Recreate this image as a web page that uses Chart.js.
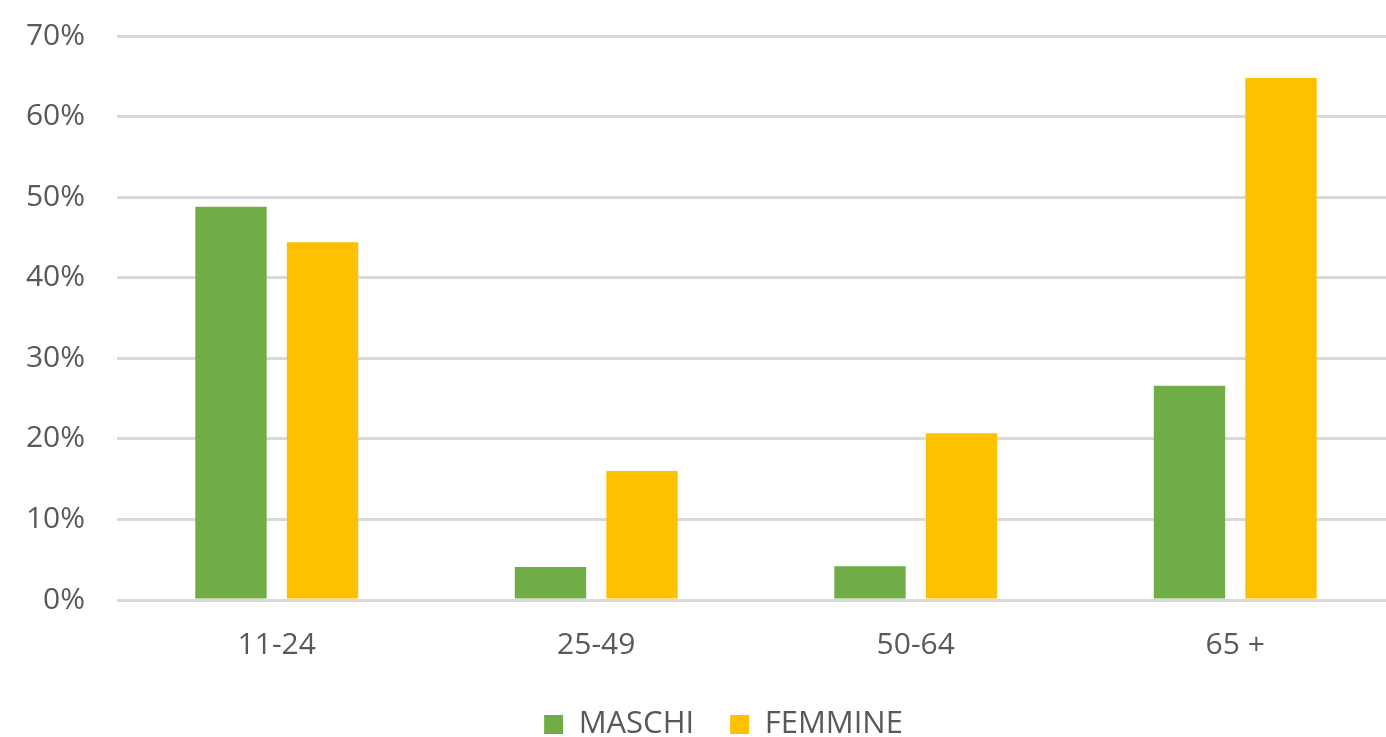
<!DOCTYPE html>
<html>
<head>
<meta charset="utf-8">
<script src="https://cdn.jsdelivr.net/npm/chart.js@4/dist/chart.umd.min.js"></script>
<style>
  html, body { margin: 0; padding: 0; background: #fff; overflow: hidden; }
  #wrap { position: relative; width: 1400px; height: 737px; }
</style>
</head>
<body>
<div id="wrap"><canvas id="c"></canvas></div>
<script>
// age groups and share per sex (percent)
const categories = ['11-24', '25-49', '50-64', '65 +'];
const maschi = [48.8, 4.1, 4.2, 26.6];
const femmine = [44.4, 16.0, 20.7, 64.8];
const yTicks = [0, 10, 20, 30, 40, 50, 60, 70];

const txt = '#595959';
const fontFamily = '"Open Sans", "Liberation Sans", sans-serif';

// nudge the legend a little right, the original is not centred on the canvas
const legendShift = {
  id: 'legendShift',
  afterLayout(chart) {
    if (chart.legend) { chart.legend.left += 26; chart.legend.right += 26; }
  }
};

new Chart(document.getElementById('c').getContext('2d'), {
  type: 'bar',
  data: {
    labels: categories,
    datasets: [
      { label: 'MASCHI', data: maschi, backgroundColor: '#70ad47',
        categoryPercentage: 0.573, barPercentage: 0.78 },
      { label: 'FEMMINE', data: femmine, backgroundColor: '#ffc000',
        categoryPercentage: 0.573, barPercentage: 0.78 }
    ]
  },
  plugins: [legendShift],
  options: {
    responsive: true,
    maintainAspectRatio: false,
    animation: false,
    layout: { autoPadding: false, padding: { top: 36, right: 5, bottom: -13, left: 0 } },
    plugins: {
      tooltip: { enabled: false },
      legend: {
        position: 'bottom',
        labels: {
          color: txt,
          font: { family: fontFamily, size: 31 },
          boxWidth: 19, boxHeight: 19, padding: 36
        }
      }
    },
    scales: {
      x: {
        afterFit: s => { s.height -= 17; },
        grid: { display: false, drawTicks: false },
        border: { display: false },
        ticks: { color: txt, font: { family: fontFamily, size: 30 }, padding: 27 }
      },
      y: {
        min: 0, max: 70,
        afterFit: s => { s.width = 117; s.paddingTop = 0; s.paddingBottom = 0; },
        afterBuildTicks: s => { s.ticks = yTicks.map(v => ({ value: v })); },
        grid: { color: '#d9d9d9', lineWidth: 3, drawTicks: false },
        border: { display: false },
        ticks: {
          color: txt, font: { family: fontFamily, size: 30 }, padding: 32,
          callback: v => v + '%'
        }
      }
    }
  }
});
</script>
</body>
</html>
